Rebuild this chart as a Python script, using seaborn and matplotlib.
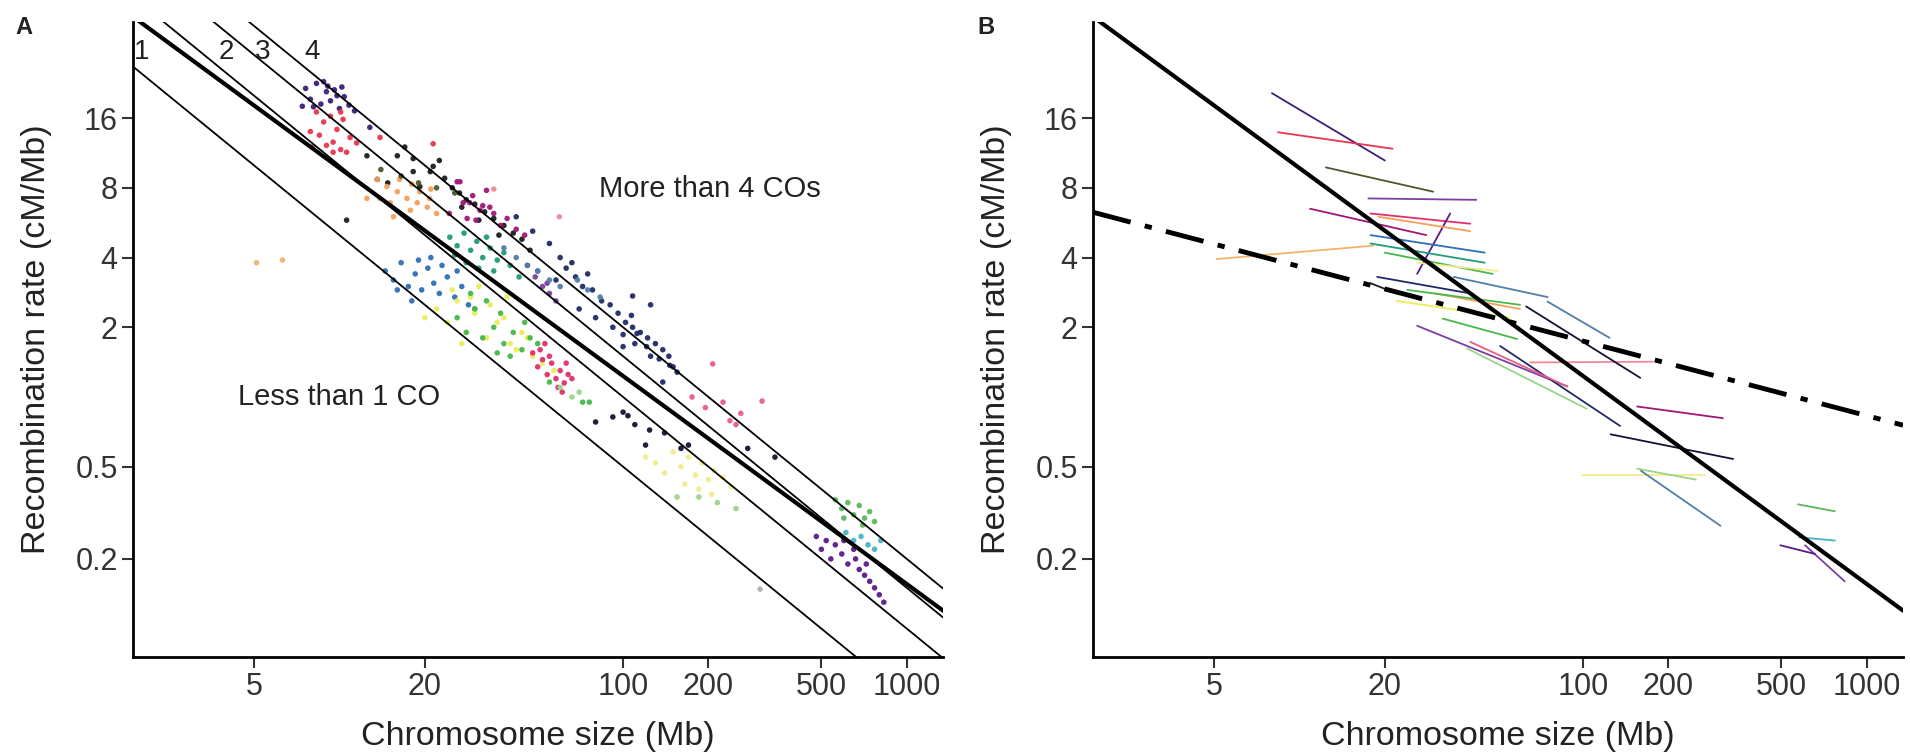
import numpy as np
import pandas as pd
import matplotlib
matplotlib.use("Agg")
import matplotlib.pyplot as plt
import seaborn as sns

sns.set_theme(style="white")
plt.rcParams['font.family'] = ['Liberation Sans', 'DejaVu Sans']

# ---------------- data ----------------
x_ticks = [5, 20, 100, 200, 500, 1000]
y_ticks = [0.2, 0.5, 2, 4, 8, 16]
y_tick_labels = ["0.2", "0.5", "2", "4", "8", "16"]
co_counts = [1, 2, 3, 4]
cm_per_co = 50.0
fit_all = (77.0, -0.898)      # thick solid line  (a * x^b)
fit_within = (7.68, -0.322)   # dash-dot line

species_names = ["indigo", "red", "black", "orange", "magenta", "teal", "blue",
                 "yellow", "green", "navy", "pinkred", "darknavy", "pink",
                 "paleyellow", "green2", "teal2", "purple2", "orange2", "grey",
                 "olive", "violet", "lightgreen", "steel", "salmon"]
species_colors = ["#3d1d78", "#e8364e", "#1c1c1c", "#f5a05a", "#a0167a", "#1f9c7a",
                  "#2e6fb5", "#e9ee5a", "#48b84a", "#202a66", "#e0306a", "#141432",
                  "#e85d8a", "#f2ec8c", "#5cb85c", "#45b5c8", "#5b1a8c", "#f4b26e",
                  "#b0b0b0", "#4a5a2a", "#7b3fa0", "#9ad48a", "#4f7fa8", "#f08a9a"]

indigo_size = [7.6, 7.9, 8.3, 8.6, 9.0, 9.3, 9.6, 10.0, 10.4, 8.1, 8.8, 9.8, 10.8, 11.3, 12.8, 7.4, 9.1, 10.2]
indigo_rate = [21.5, 19.3, 22.6, 18.4, 20.8, 19.0, 21.2, 17.6, 19.8, 17.9, 23.0, 20.0, 18.2, 17.2, 14.6, 18.0, 22.0, 21.8]
red_size = [8.3, 8.8, 9.3, 9.8, 8.5, 9.0, 9.5, 10.1, 10.6, 10.9, 10.3, 9.5, 10.1, 7.9, 8.0, 11.5, 13.9, 21.4]
red_rate = [17.0, 15.4, 16.3, 14.3, 13.5, 12.2, 12.6, 11.7, 11.4, 13.2, 15.8, 11.4, 17.0, 14.0, 12.0, 12.5, 13.2, 12.4]
black_size = [12.5, 16.0, 18.2, 21.4, 18.2, 19.2, 20.9, 13.6, 14.8, 23.5, 25.0, 10.6, 17.0, 22.5,
              26.5, 28.0, 30.0, 32.5, 35.0, 38.0, 41.0, 44.0, 27.0, 31.0, 36.5, 47.0]
black_rate = [11.0, 11.0, 10.7, 9.9, 9.4, 8.1, 9.4, 8.7, 8.4, 8.8, 8.0, 5.8, 12.0, 10.5,
              7.6, 7.1, 6.8, 6.3, 5.9, 5.5, 5.1, 4.8, 6.6, 5.8, 5.0, 4.3]
orange_size = [13.6, 14.7, 16.0, 17.3, 18.8, 20.4, 15.1, 16.3, 19.2, 20.8, 13.9, 12.5, 22.0, 17.8, 15.5, 18.0, 21.0]
orange_rate = [8.7, 8.1, 7.7, 7.2, 6.9, 6.6, 6.9, 8.7, 7.7, 7.2, 7.2, 7.2, 6.2, 6.4, 6.0, 8.3, 7.9]
magenta_size = [26.6, 28.8, 31.3, 33.9, 28.2, 24.4, 26.0, 27.3, 32.0, 35.0, 30.3, 37.0, 29.5, 39.0, 42.0, 45.0, 33.0]
magenta_rate = [8.5, 6.9, 6.4, 6.6, 5.9, 6.2, 8.5, 6.9, 6.7, 6.2, 5.8, 5.5, 7.4, 5.9, 5.3, 5.0, 7.8]
teal_size = [24.5, 26.0, 27.5, 29.0, 30.5, 32.0, 34.0, 36.0, 28.0, 31.0, 33.0, 25.5, 35.0, 38.0, 40.0, 43.0]
teal_rate = [4.9, 4.5, 5.1, 4.3, 4.7, 4.0, 4.4, 3.9, 3.8, 3.6, 4.9, 4.1, 3.5, 4.2, 3.7, 3.3]
blue_size = [14.5, 15.5, 16.5, 17.5, 18.5, 19.5, 20.5, 21.5, 22.5, 24.0, 25.5, 27.0, 16.0, 19.0, 23.0, 28.5,
             30.0, 26.0, 21.0, 18.0]
blue_rate = [3.5, 3.2, 3.8, 3.0, 3.4, 2.9, 3.6, 3.1, 2.8, 3.3, 2.7, 3.0, 2.9, 3.9, 3.7, 2.5,
             2.4, 3.5, 4.0, 2.6]
yellow_size = [22, 24, 26, 28, 30, 33, 36, 40, 44, 48, 25, 29, 34, 38, 42, 46, 52, 20, 31, 27, 39, 57]
yellow_rate = [2.4, 2.1, 2.6, 1.9, 2.3, 1.8, 2.1, 1.7, 1.9, 1.5, 2.9, 2.7, 2.5, 2.2, 1.6, 1.8, 1.4, 2.2, 3.0, 1.7, 2.7, 1.3]
green_size = [26, 28, 30, 32, 35, 38, 41, 44, 47, 33, 37, 40, 45, 50, 55, 72, 76, 29, 36]
green_rate = [2.2, 1.9, 2.4, 1.8, 2.0, 1.7, 1.9, 1.6, 1.8, 2.6, 2.3, 1.5, 2.1, 1.7, 1.16, 0.95, 0.95, 2.8, 1.55]
navy_size = [42, 48, 55, 60, 63, 68, 72, 78, 84, 90, 96, 102, 108, 115, 122, 130, 138, 145, 70, 80, 92, 110,
             125, 150, 58, 108, 125, 107, 112, 100, 121, 134, 146, 155, 138, 100, 66, 75]
navy_rate = [6.0, 5.2, 4.6, 4.0, 3.6, 3.3, 3.0, 2.9, 2.6, 2.5, 2.3, 2.1, 2.0, 1.9, 1.8, 1.7, 1.6, 1.5, 2.4, 2.2,
             2.0, 1.7, 1.5, 1.35, 3.2, 2.73, 2.5, 2.25, 1.88, 1.86, 1.65, 1.46, 1.37, 1.28, 1.16, 1.65, 3.8, 3.4]
pinkred_size = [48, 50, 52, 54, 56, 58, 60, 62, 64, 51, 55, 59, 63, 66, 53, 61]
pinkred_rate = [1.55, 1.35, 1.45, 1.25, 1.4, 1.2, 1.3, 1.15, 1.25, 1.6, 1.5, 1.1, 1.4, 1.2, 1.7, 1.05]
darknavy_size = [80, 92, 100, 104, 110, 120, 124, 140, 160, 170, 275, 343]
darknavy_rate = [0.78, 0.82, 0.86, 0.83, 0.76, 0.62, 0.72, 0.7, 0.6, 0.62, 0.60, 0.55]
pink_size = [207, 225, 238, 250, 309, 175, 195, 260]
pink_rate = [1.39, 0.95, 0.79, 0.76, 0.96, 1.0, 0.9, 0.85]
paleyellow_size = [150, 160, 170, 180, 190, 200, 210, 165, 185, 205, 225, 240, 130, 140, 120]
paleyellow_rate = [0.58, 0.5, 0.55, 0.46, 0.52, 0.44, 0.48, 0.42, 0.4, 0.38, 0.45, 0.41, 0.52, 0.47, 0.55]
green2_size = [560, 590, 620, 650, 680, 710, 740, 770, 600, 700]
green2_rate = [0.36, 0.33, 0.35, 0.31, 0.34, 0.30, 0.32, 0.29, 0.30, 0.28]
teal2_size = [610, 650, 690, 730, 770, 810]
teal2_rate = [0.26, 0.24, 0.25, 0.23, 0.22, 0.24]
purple2_size = [480, 500, 520, 540, 560, 590, 620, 650, 680, 710, 740, 770, 800, 830, 600, 660, 720]
purple2_rate = [0.25, 0.22, 0.24, 0.20, 0.23, 0.21, 0.19, 0.22, 0.18, 0.17, 0.16, 0.15, 0.14, 0.13, 0.24, 0.2, 0.19]
orange2_size = [5.1, 6.3]
orange2_rate = [3.8, 3.9]
grey_size = [304]
grey_rate = [0.148]
olive_size = [14.0, 16.5, 19.0, 22.0, 25.5]
olive_rate = [9.6, 9.0, 8.4, 8.0, 7.6]
violet_size = [46, 49, 52, 55, 58, 50, 54]
violet_rate = [3.7, 3.3, 3.0, 2.8, 2.6, 3.5, 3.1]
lightgreen_size = [155, 185, 215, 250, 60, 66, 70]
lightgreen_rate = [0.37, 0.37, 0.35, 0.33, 1.1, 1.0, 1.05]
steel_size = [38, 42, 46, 50, 55, 60, 69, 75, 83]
steel_rate = [4.4, 4.0, 3.7, 3.5, 3.2, 3.0, 3.2, 2.9, 2.7]
salmon_size = [35, 59.6]
salmon_rate = [7.9, 6.0]

# Panel B: per-species fitted segments (species, x0, y0, x1, y1)
seg_species = ["indigo", "red", "olive", "violet", "magenta", "orange2", "pinkred", "purple2",
               "orange", "blue", "teal", "green", "paleyellow", "navy", "black", "green",
               "violet", "green", "pink", "navy", "lightgreen", "salmon", "darknavy", "steel",
               "yellow", "orange", "steel", "magenta", "darknavy", "paleyellow", "lightgreen",
               "steel", "green2", "teal2", "purple2", "violet"]
seg_x0 = [8.0, 8.4, 12.4, 17.5, 10.9, 5.1, 17.8, 26, 19, 17.8, 17.8, 20, 26, 18.8, 17.8, 24,
          26, 32, 40, 51, 39, 65, 63, 75, 22, 30, 35, 155, 125, 99, 155, 160, 572, 577, 496, 606]
seg_y0 = [20.5, 13.9, 9.8, 7.2, 6.5, 3.94, 6.2, 3.4, 6.0, 5.0, 4.6, 4.2, 3.8, 3.3, 3.1, 2.9,
          2.03, 2.18, 1.73, 1.66, 1.62, 1.41, 2.46, 2.58, 2.6, 2.8, 3.3, 0.91, 0.69, 0.46, 0.49,
          0.48, 0.344, 0.248, 0.229, 0.229]
seg_x1 = [20.0, 21.3, 29.6, 42, 28, 18.2, 40, 34, 40, 45, 45, 48, 50, 40, 22, 60,
          88, 58.6, 88, 135, 103, 176, 159, 124, 55, 60, 75, 311, 338, 270, 250, 305, 772, 772, 657, 836]
seg_y1 = [10.5, 11.8, 7.7, 7.1, 5.0, 4.5, 5.6, 6.2, 5.2, 4.2, 3.8, 3.4, 3.5, 2.8, 2.8, 2.5,
          1.11, 1.78, 1.11, 0.75, 0.89, 1.42, 1.21, 1.8, 2.2, 2.4, 2.7, 0.81, 0.54, 0.46, 0.44,
          0.278, 0.321, 0.24, 0.21, 0.16]

# ---------------- build tables ----------------
palette = dict(zip(species_names, species_colors))
pts = []
for name in species_names:
    xs = globals()[name + "_size"]
    ys = globals()[name + "_rate"]
    pts += [(name, a, b) for a, b in zip(xs, ys)]
df = pd.DataFrame(pts, columns=["species", "size", "rate"])

seg_rows = []
for i, (sp, a0, b0, a1, b1) in enumerate(zip(seg_species, seg_x0, seg_y0, seg_x1, seg_y1)):
    seg_rows.append((i, sp, a0, b0))
    seg_rows.append((i, sp, a1, b1))
seg_df = pd.DataFrame(seg_rows, columns=["seg", "species", "size", "rate"])

XLIM = (1.872, 1342)
YLIM = (0.0754, 41.6)
xline = np.array(XLIM)

co_rows = []
for k in co_counts:
    for xv in xline:
        co_rows.append((k, xv, cm_per_co * k / xv))
co_df = pd.DataFrame(co_rows, columns=["k", "size", "rate"])

def fit_df(params):
    a, b = params
    return pd.DataFrame({"size": xline, "rate": a * xline ** b})

# ---------------- figure ----------------
W, H = 1910, 753
fig = plt.figure(figsize=(W / 100, H / 100), dpi=100)
axA = fig.add_axes([133 / W, 1 - 657 / H, (943 - 133) / W, (657 - 22) / H])
axB = fig.add_axes([1093 / W, 1 - 657 / H, (1903 - 1093) / W, (657 - 22) / H])

TXT = "#222222"
# Panel A
sns.scatterplot(data=df, x="size", y="rate", hue="species", palette=palette, s=16,
                linewidth=0, alpha=0.95, legend=False, ax=axA, zorder=2)
sns.lineplot(data=co_df, x="size", y="rate", units="k", estimator=None, color="black",
             lw=1.3, sort=False, ax=axA, zorder=3)
sns.lineplot(data=fit_df(fit_all), x="size", y="rate", color="black", lw=3.0, ax=axA, zorder=4)

label_x = [2.01, 4.0, 5.37, 8.0]
for k, lx in zip(co_counts, label_x):
    axA.text(lx, 30.8, str(k), fontsize=20, color=TXT, ha="center", va="center")
axA.text(203, 7.9, "More than 4 COs", fontsize=21, color=TXT, ha="center", va="center")
axA.text(10.0, 1.0, "Less than 1 CO", fontsize=21, color=TXT, ha="center", va="center")

# Panel B
sns.lineplot(data=seg_df, x="size", y="rate", hue="species", palette=palette, units="seg",
             estimator=None, lw=1.3, sort=False, legend=False, ax=axB, zorder=2)
sns.lineplot(data=fit_df(fit_all), x="size", y="rate", color="black", lw=3.0, ax=axB, zorder=4)
lw_df = fit_df(fit_within)
axB.plot(lw_df["size"], lw_df["rate"], color="black", lw=3.5, zorder=4,
         dashes=[8, 3, 1.5, 3])

for ax in (axA, axB):
    ax.set_xscale("log")
    ax.set_yscale("log")
    ax.set_xlim(*XLIM)
    ax.set_ylim(*YLIM)
    ax.set_xticks(x_ticks)
    ax.set_xticklabels([str(t) for t in x_ticks])
    ax.set_yticks(y_ticks)
    ax.set_yticklabels(y_tick_labels)
    ax.minorticks_off()
    ax.tick_params(axis="both", which="major", direction="out", length=8, width=1.5,
                   labelsize=22, colors="#333333", pad=3, left=True, bottom=True)
    for s in ("top", "right"):
        ax.spines[s].set_visible(False)
    for s in ("left", "bottom"):
        ax.spines[s].set_linewidth(2.0)
        ax.spines[s].set_color("black")
    ax.set_xlabel("Chromosome size (Mb)", fontsize=24.5, color=TXT)
    ax.set_ylabel("Recombination rate (cM/Mb)", fontsize=24.5, color=TXT)
    ax.xaxis.set_label_coords(0.5, -0.10)
    ax.yaxis.set_label_coords(-0.1, 0.5)
    ax.grid(False)

fig.text(15 / W, 1 - 27 / H, "A", fontsize=17, fontweight="bold", va="center", color=TXT)
fig.text(977 / W, 1 - 27 / H, "B", fontsize=17, fontweight="bold", va="center", color=TXT)

fig.savefig("out.png", dpi=100, facecolor="white")
